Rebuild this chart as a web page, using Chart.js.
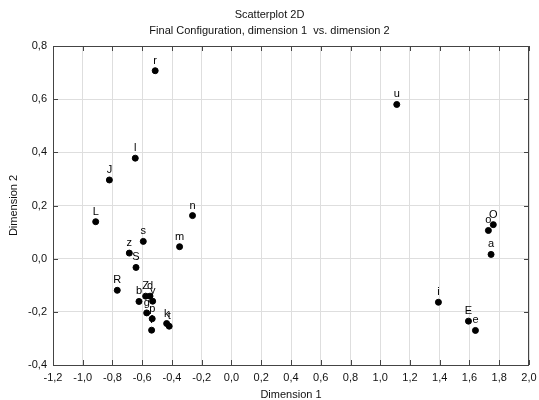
<!DOCTYPE html>
<html>
<head>
<meta charset="utf-8">
<script src="https://cdn.jsdelivr.net/npm/chart.js@4/dist/chart.umd.min.js"></script>
<style>
html,body{margin:0;padding:0;background:#fff;}
#wrap{width:539px;height:400px;position:relative;}
</style>
</head>
<body>
<div id="wrap"><canvas id="c" width="539" height="400"></canvas></div>
<script>
const names = ['r','u','l','J','L','n','m','s','z','S','R','b','Z','d','y','g','p','f','k','t','O','o','a','i','E','e'];
const dim1 = [-0.513, 1.111, -0.647, -0.821, -0.913, -0.262, -0.349, -0.593, -0.687, -0.642, -0.768, -0.622, -0.577, -0.548, -0.530, -0.570, -0.533, -0.537, -0.436, -0.419, 1.760, 1.727, 1.745, 1.391, 1.593, 1.640];
const dim2 = [0.707, 0.580, 0.378, 0.296, 0.139, 0.162, 0.045, 0.065, 0.021, -0.033, -0.119, -0.161, -0.141, -0.141, -0.160, -0.204, -0.226, -0.269, -0.244, -0.254, 0.128, 0.106, 0.016, -0.164, -0.235, -0.270];
const xTickValues = [-1.2,-1.0,-0.8,-0.6,-0.4,-0.2,0.0,0.2,0.4,0.6,0.8,1.0,1.2,1.4,1.6,1.8,2.0];
const yTickValues = [-0.4,-0.2,0.0,0.2,0.4,0.6,0.8];

const FONT = "'Liberation Sans', Arial, sans-serif";
const fmt = v => (Math.abs(v) < 1e-9 ? 0 : v).toFixed(1).replace('.', ',');

const pointLabels = {
  id: 'pointLabels',
  afterDatasetsDraw(chart) {
    const ctx = chart.ctx;
    const meta = chart.getDatasetMeta(0);
    ctx.save();
    ctx.font = "11px " + FONT;
    ctx.fillStyle = '#000';
    ctx.textAlign = 'center';
    ctx.textBaseline = 'alphabetic';
    meta.data.forEach((el, i) => {
      ctx.fillText(names[i], el.x, el.y - 7);
    });
    ctx.restore();
  }
};

const frame = {
  id: 'frame',
  afterDraw(chart) {
    const {ctx, chartArea: a, scales} = chart;
    ctx.save();
    ctx.strokeStyle = '#444';
    ctx.lineWidth = 1;
    ctx.beginPath();
    ctx.rect(Math.round(a.left) + 0.5, Math.round(a.top) + 0.5, Math.round(a.right - a.left) - 1, Math.round(a.bottom - a.top));
    ctx.stroke();
    const tl = 5;
    ctx.beginPath();
    scales.x.ticks.forEach(t => {
      const px = Math.round(scales.x.getPixelForValue(t.value)) + 0.5;
      ctx.moveTo(px, a.top); ctx.lineTo(px, a.top + tl);
      ctx.moveTo(px, a.bottom); ctx.lineTo(px, a.bottom - tl);
    });
    scales.y.ticks.forEach(t => {
      const py = Math.round(scales.y.getPixelForValue(t.value)) + 0.5;
      ctx.moveTo(a.left, py); ctx.lineTo(a.left + tl, py);
      ctx.moveTo(a.right, py); ctx.lineTo(a.right - tl, py);
    });
    ctx.stroke();
    ctx.restore();
  }
};

new Chart(document.getElementById('c'), {
  type: 'scatter',
  data: {
    datasets: [{
      data: dim1.map((x, i) => ({x: x, y: dim2[i]})),
      backgroundColor: '#000',
      borderColor: '#000',
      pointRadius: 3,
      pointHoverRadius: 3
    }]
  },
  options: {
    responsive: false,
    animation: false,
    devicePixelRatio: 1,
    layout: {padding: {left: 0, right: 0, top: 0, bottom: 0}},
    plugins: {
      legend: {display: false},
      tooltip: {enabled: false},
      title: {
        display: true,
        text: 'Scatterplot 2D',
        color: '#111',
        font: {family: FONT, size: 11, weight: 'normal', lineHeight: 1.2},
        padding: {top: 8.4, bottom: 1}
      },
      subtitle: {
        display: true,
        text: 'Final Configuration, dimension 1  vs. dimension 2',
        color: '#111',
        font: {family: FONT, size: 11, weight: 'normal', lineHeight: 1.2},
        padding: {top: 1.8, bottom: 8.4}
      }
    },
    scales: {
      x: {
        type: 'linear',
        min: -1.2, max: 2.0,
        afterBuildTicks: s => { s.ticks = xTickValues.map(v => ({value: v})); },
        afterFit: s => { s.height = 35; s.paddingRight = 10; s.paddingLeft = 0; },
        ticks: {
          callback: v => fmt(v),
          color: '#111',
          font: {family: FONT, size: 11},
          padding: 6,
          maxRotation: 0,
          autoSkip: false
        },
        grid: {color: '#dedede', lineWidth: 1, drawTicks: false},
        border: {display: false},
        title: {
          display: true,
          text: 'Dimension 1',
          color: '#111',
          font: {family: FONT, size: 11, lineHeight: 1},
          padding: {top: 0, bottom: 0}
        }
      },
      y: {
        type: 'linear',
        min: -0.4, max: 0.8,
        afterBuildTicks: s => { s.ticks = yTickValues.map(v => ({value: v})); },
        afterFit: s => { s.width = 53; },
        ticks: {
          callback: v => fmt(v),
          color: '#111',
          font: {family: FONT, size: 11},
          padding: 6,
          autoSkip: false
        },
        grid: {color: '#dedede', lineWidth: 1, drawTicks: false},
        border: {display: false},
        title: {
          display: true,
          text: 'Dimension 2',
          color: '#111',
          font: {family: FONT, size: 11, lineHeight: 1},
          padding: {top: 8.5, bottom: 0}
        }
      }
    }
  },
  plugins: [pointLabels, frame]
});
</script>
</body>
</html>
